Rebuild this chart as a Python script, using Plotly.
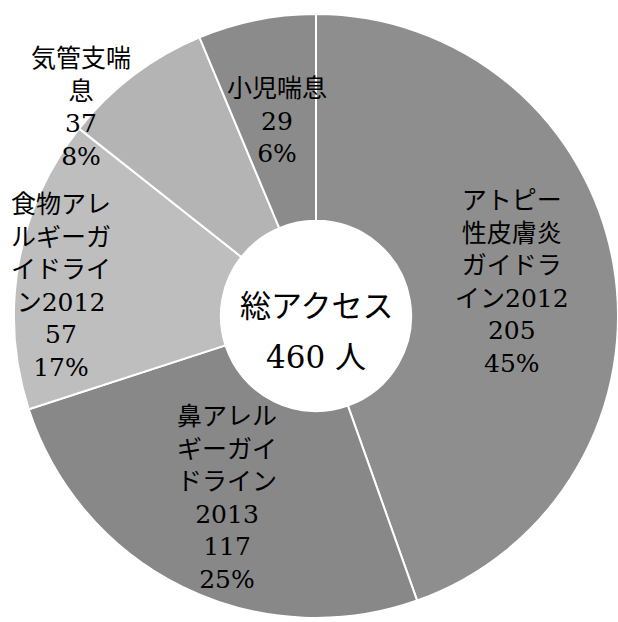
import math
import plotly.graph_objects as go

# Data (clockwise from 12 o'clock)
names = [
    "アトピー<br>性皮膚炎<br>ガイドラ<br>イン2012",
    "鼻アレル<br>ギーガイ<br>ドライン<br>2013",
    "食物アレ<br>ルギーガ<br>イドライ<br>ン2012",
    "気管支喘<br>息",
    "小児喘息",
]
counts = [205, 117, 57, 37, 29]                   # printed counts
pct_labels = ["45%", "25%", "17%", "8%", "6%"]    # printed percentages
slice_sizes = [205, 117, 72, 37, 29]              # slice extents as drawn (total 460)
total_label = "460"
colors = ["#8e8e8e", "#888888", "#bebebe", "#b4b4b4", "#8b8b8b"]

# label placement style (fraction of outer radius, angular shift in degrees)
label_rfrac = [0.66, 0.67, 0.85, 1.04, 0.66]
label_shift = [0, 0, -3.5, -11.3, 0]

W, H = 618, 622
FONT = "DejaVu Serif, Noto Sans CJK JP, serif"
dom_x = [14 / W, 1.0]
dom_y = [4 / H, 608 / H]
HOLE = 0.315

texts = [f"{n}<br>{c}<br>{p}" for n, c, p in zip(names, counts, pct_labels)]

fig = go.Figure(go.Pie(
    values=slice_sizes,
    labels=[n.replace("<br>", "") for n in names],
    textinfo="none",
    sort=False,
    direction="clockwise",
    rotation=0,
    hole=HOLE,
    marker=dict(colors=colors, line=dict(color="white", width=2)),
    domain=dict(x=dom_x, y=dom_y),
    showlegend=False,
    hoverinfo="label+value",
))

# pie geometry in pixels (derived from the domain)
cx = (dom_x[0] + dom_x[1]) / 2 * W
cy = (1 - (dom_y[0] + dom_y[1]) / 2) * H
R = min((dom_x[1] - dom_x[0]) * W, (dom_y[1] - dom_y[0]) * H) / 2

tot = sum(slice_sizes)
cum = 0
for v, t, rf, sh in zip(slice_sizes, texts, label_rfrac, label_shift):
    mid = (cum + v / 2) / tot * 360 + sh
    cum += v
    a = math.radians(mid)
    px = cx + rf * R * math.sin(a)
    py = cy - rf * R * math.cos(a)
    fig.add_annotation(text=t, x=px / W, y=1 - py / H, xref="paper", yref="paper",
                       xanchor="center", yanchor="middle",
                       showarrow=False, align="center",
                       font=dict(family=FONT, size=25, color="black"))

fig.add_annotation(text="総アクセス", x=cx / W, y=1 - (cy - 10) / H, xref="paper", yref="paper",
                   xanchor="center", yanchor="middle",
                   showarrow=False, font=dict(family=FONT, size=31, color="black"))
fig.add_annotation(text=f"{total_label} 人", x=cx / W, y=1 - (cy + 41) / H, xref="paper", yref="paper",
                   xanchor="center", yanchor="middle",
                   showarrow=False, font=dict(family=FONT, size=31, color="black"))

fig.update_layout(
    width=W, height=H,
    margin=dict(l=0, r=0, t=0, b=0),
    paper_bgcolor="white",
)

fig.write_html("out.html")
